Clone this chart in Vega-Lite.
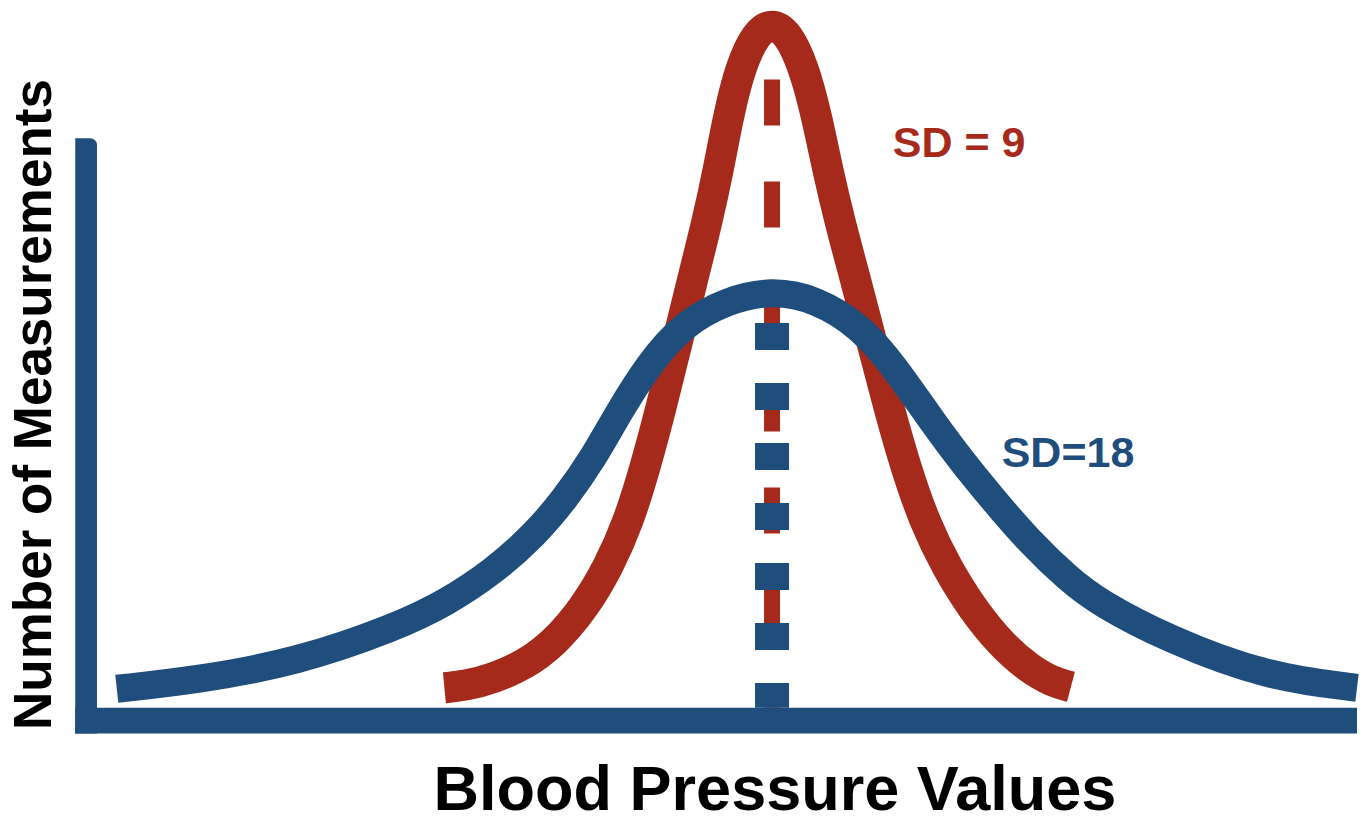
{
  "$schema": "https://vega.github.io/schema/vega-lite/v6.json",
  "width": 1371,
  "height": 823,
  "padding": 0,
  "autosize": {"type": "fit", "contains": "padding"},
  "background": "white",
  "config": {"view": {"stroke": null}},
  "datasets": {
    "curves": [
      {"series": "SD = 9", "bp": 86.9, "count": 2.0},
      {"series": "SD = 9", "bp": 89.0, "count": 2.2},
      {"series": "SD = 9", "bp": 92.0, "count": 3.0},
      {"series": "SD = 9", "bp": 95.0, "count": 4.3},
      {"series": "SD = 9", "bp": 98.0, "count": 6.5},
      {"series": "SD = 9", "bp": 101.0, "count": 10.0},
      {"series": "SD = 9", "bp": 103.5, "count": 14.2},
      {"series": "SD = 9", "bp": 105.5, "count": 18.7},
      {"series": "SD = 9", "bp": 107.2, "count": 24.2},
      {"series": "SD = 9", "bp": 108.8, "count": 30.2},
      {"series": "SD = 9", "bp": 110.4, "count": 36.7},
      {"series": "SD = 9", "bp": 112.0, "count": 43.2},
      {"series": "SD = 9", "bp": 113.4, "count": 48.7},
      {"series": "SD = 9", "bp": 114.6, "count": 54.2},
      {"series": "SD = 9", "bp": 115.6, "count": 59.6},
      {"series": "SD = 9", "bp": 116.8, "count": 64.5},
      {"series": "SD = 9", "bp": 118.4, "count": 67.9},
      {"series": "SD = 9", "bp": 120.0, "count": 68.9},
      {"series": "SD = 9", "bp": 121.6, "count": 67.9},
      {"series": "SD = 9", "bp": 123.2, "count": 64.5},
      {"series": "SD = 9", "bp": 124.5, "count": 59.6},
      {"series": "SD = 9", "bp": 125.6, "count": 54.2},
      {"series": "SD = 9", "bp": 126.9, "count": 48.7},
      {"series": "SD = 9", "bp": 128.4, "count": 43.2},
      {"series": "SD = 9", "bp": 130.1, "count": 36.7},
      {"series": "SD = 9", "bp": 131.8, "count": 30.2},
      {"series": "SD = 9", "bp": 133.5, "count": 24.2},
      {"series": "SD = 9", "bp": 135.4, "count": 18.7},
      {"series": "SD = 9", "bp": 137.6, "count": 14.2},
      {"series": "SD = 9", "bp": 140.2, "count": 10.0},
      {"series": "SD = 9", "bp": 143.2, "count": 6.3},
      {"series": "SD = 9", "bp": 146.0, "count": 3.9},
      {"series": "SD = 9", "bp": 148.3, "count": 2.6},
      {"series": "SD = 9", "bp": 150.2, "count": 2.1},
      {"series": "SD=18", "bp": 53.8, "count": 1.9},
      {"series": "SD=18", "bp": 62.0, "count": 2.8},
      {"series": "SD=18", "bp": 72.0, "count": 4.6},
      {"series": "SD=18", "bp": 82.0, "count": 8.1},
      {"series": "SD=18", "bp": 87.0, "count": 10.5},
      {"series": "SD=18", "bp": 92.0, "count": 13.8},
      {"series": "SD=18", "bp": 96.0, "count": 17.4},
      {"series": "SD=18", "bp": 99.0, "count": 20.9},
      {"series": "SD=18", "bp": 102.0, "count": 25.2},
      {"series": "SD=18", "bp": 104.5, "count": 29.7},
      {"series": "SD=18", "bp": 107.5, "count": 34.5},
      {"series": "SD=18", "bp": 111.0, "count": 38.6},
      {"series": "SD=18", "bp": 115.5, "count": 41.0},
      {"series": "SD=18", "bp": 120.0, "count": 42.0},
      {"series": "SD=18", "bp": 124.5, "count": 41.1},
      {"series": "SD=18", "bp": 129.0, "count": 38.3},
      {"series": "SD=18", "bp": 132.3, "count": 34.4},
      {"series": "SD=18", "bp": 135.7, "count": 29.5},
      {"series": "SD=18", "bp": 139.0, "count": 25.0},
      {"series": "SD=18", "bp": 142.3, "count": 21.0},
      {"series": "SD=18", "bp": 146.0, "count": 16.7},
      {"series": "SD=18", "bp": 150.0, "count": 12.9},
      {"series": "SD=18", "bp": 153.0, "count": 10.6},
      {"series": "SD=18", "bp": 160.0, "count": 6.9},
      {"series": "SD=18", "bp": 170.0, "count": 3.1},
      {"series": "SD=18", "bp": 179.1, "count": 2.0}
    ],
    "centres": [
      {"series": "SD = 9", "bp": 120.0, "count": 63.2, "count2": 0},
      {"series": "SD=18", "bp": 120.0, "count": 38.7, "count2": 0}
    ],
    "frame": [
      {"part": "y", "bp": 49.6, "bp2": 51.8, "count": 57.3, "count2": -2.6},
      {"part": "x", "bp": 49.6, "bp2": 179.1, "count": 0.0, "count2": -2.6}
    ],
    "labels": [
      {"label": "SD = 9", "bp": 132.2, "count": 55.4},
      {"label": "SD=18", "bp": 143.2, "count": 24.2},
      {"label": "Blood Pressure Values", "bp": 120.3, "count": -10.3},
      {"label": "Number of Measurements", "bp": 47.2, "count": 30.5}
    ]
  },
  "encoding": {
    "x": {"field": "bp", "type": "quantitative", "scale": {"domain": [42, 179.1], "nice": false, "zero": false}, "axis": null},
    "y": {"field": "count", "type": "quantitative", "scale": {"domain": [-11.1, 71.2], "nice": false, "zero": false}, "axis": null}
  },
  "layer": [
    {
      "data": {"name": "frame"},
      "transform": [{"filter": "datum.part === 'x'"}],
      "mark": {"type": "rect", "color": "#1F4D7C"},
      "encoding": {"x2": {"field": "bp2"}, "y2": {"field": "count2"}}
    },
    {
      "data": {"name": "frame"},
      "transform": [{"filter": "datum.part === 'y'"}],
      "mark": {"type": "rect", "color": "#1F4D7C", "cornerRadiusTopRight": 7},
      "encoding": {"x2": {"field": "bp2"}, "y2": {"field": "count2"}}
    },
    {
      "data": {"name": "curves"},
      "transform": [{"filter": "datum.series === 'SD = 9'"}],
      "mark": {"type": "line", "color": "#A62A1B", "strokeWidth": 31, "interpolate": "basis", "strokeCap": "butt", "strokeJoin": "round"},
      "encoding": {"order": {"field": "bp", "type": "quantitative"}}
    },
    {
      "data": {"name": "centres"},
      "transform": [{"filter": "datum.series === 'SD = 9'"}],
      "mark": {"type": "rule", "color": "#A62A1B", "strokeWidth": 16, "strokeDash": [46, 56], "strokeCap": "butt"},
      "encoding": {"y2": {"field": "count2"}}
    },
    {
      "data": {"name": "curves"},
      "transform": [{"filter": "datum.series === 'SD=18'"}],
      "mark": {"type": "line", "color": "#1F4D7C", "strokeWidth": 28, "interpolate": "basis", "strokeCap": "butt", "strokeJoin": "round"},
      "encoding": {"order": {"field": "bp", "type": "quantitative"}}
    },
    {
      "data": {"name": "centres"},
      "transform": [{"filter": "datum.series === 'SD=18'"}],
      "mark": {"type": "rule", "color": "#1F4D7C", "strokeWidth": 34, "strokeDash": [27, 33], "strokeCap": "butt"},
      "encoding": {"y2": {"field": "count2"}}
    },
    {
      "data": {"name": "labels"},
      "transform": [{"filter": "datum.label === 'SD = 9'"}],
      "mark": {"type": "text", "align": "left", "baseline": "alphabetic", "font": "Liberation Sans", "fontWeight": "bold", "fontSize": 43, "color": "#A62A1B"},
      "encoding": {"text": {"field": "label"}}
    },
    {
      "data": {"name": "labels"},
      "transform": [{"filter": "datum.label === 'SD=18'"}],
      "mark": {"type": "text", "align": "left", "baseline": "alphabetic", "font": "Liberation Sans", "fontWeight": "bold", "fontSize": 43, "color": "#1F4D7C"},
      "encoding": {"text": {"field": "label"}}
    },
    {
      "data": {"name": "labels"},
      "transform": [{"filter": "datum.label === 'Blood Pressure Values'"}],
      "mark": {"type": "text", "align": "center", "baseline": "alphabetic", "font": "Liberation Sans", "fontWeight": "bold", "fontSize": 63, "color": "#000000"},
      "encoding": {"text": {"field": "label"}}
    },
    {
      "data": {"name": "labels"},
      "transform": [{"filter": "datum.label === 'Number of Measurements'"}],
      "mark": {"type": "text", "align": "center", "baseline": "alphabetic", "angle": 270, "font": "Liberation Sans", "fontWeight": "bold", "fontSize": 53, "color": "#000000"},
      "encoding": {"text": {"field": "label"}}
    }
  ]
}
